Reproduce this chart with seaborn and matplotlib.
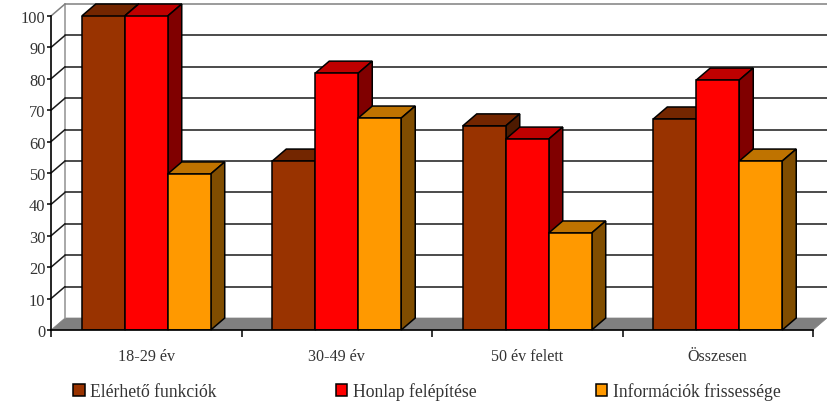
import pandas as pd
import seaborn as sns
from matplotlib import pyplot as plt
from matplotlib.patches import Polygon

# Adatok
kategoriak = ["18-29 év", "30-49 év", "50 év felett", "Összesen"]
elerheto = [100, 53.8, 65, 67.2]
honlap = [100, 81.8, 60.8, 79.6]
informaciok = [49.7, 67.5, 30.9, 53.8]
sorozatok = ["Elérhető funkciók", "Honlap felépítése", "Információk frissessége"]
y_ticks = [0, 10, 20, 30, 40, 50, 60, 70, 80, 90, 100]

szin_elol = ["#993300", "#FF0000", "#FF9900"]
szin_felul = ["#732600", "#BF0000", "#BF7300"]
szin_oldal = ["#4D1A00", "#800000", "#804D00"]

df = pd.DataFrame({
    "kategoria": kategoriak * 3,
    "sorozat": [s for s in sorozatok for _ in kategoriak],
    "ertek": elerheto + honlap + informaciok,
})

sns.set_theme(style="white")
plt.rcParams["font.family"] = ["Liberation Serif", "DejaVu Serif"]
plt.rcParams["font.size"] = 11.6

W, H = 827, 406
fig = plt.figure(figsize=(W / 100, H / 100), dpi=100)
ax = fig.add_axes([51 / W, (H - 331) / H, 762 / W, 314 / H])

sns.barplot(data=df, x="kategoria", y="ertek", hue="sorozat", palette=szin_elol,
            width=0.677, gap=0, dodge=True, saturation=1, edgecolor="black",
            linewidth=1.1, zorder=5, ax=ax)
ax.set_xlim(-0.5, 3.5)
ax.set_ylim(0, 100)
ax.set_xlabel("")
ax.set_ylabel("")

# 3D eltolas adat egysegben (14 px jobbra, 12 px fel)
ddx = 14 / 190.5
ddy = 12 / 3.14
lw = 1.1

# Padlo es hatso fal
bal, jobb = -0.5, 3.5
ax.add_patch(Polygon([(bal, 0), (jobb, 0), (jobb + ddx, ddy), (bal + ddx, ddy)],
                     facecolor="#808080", edgecolor="#808080", lw=0.5, clip_on=False, zorder=1))
ax.plot([bal + ddx, bal + ddx], [ddy, 100 + ddy], color="#999999", lw=1.2, clip_on=False, zorder=1)
for v in y_ticks[1:]:
    szin = "#808080" if v == 100 else "#1a1a1a"
    ax.plot([bal + ddx, jobb + ddx], [v + ddy, v + ddy], color=szin, lw=lw, clip_on=False, zorder=2)
    ax.plot([bal, bal + ddx], [v, v + ddy], color=szin, lw=lw, clip_on=False, zorder=2)

# Felso es oldalso lapok, balrol jobbra, hogy a kovetkezo oszlop takarjon
for j, cont in enumerate(ax.containers):
    for i, bar in enumerate(cont):
        x0, w, h = bar.get_x(), bar.get_width(), bar.get_height()
        z = 5 + i * 5 + j
        bar.set_zorder(z + 0.5)
        ax.add_patch(Polygon([(x0, h), (x0 + w, h), (x0 + w + ddx, h + ddy), (x0 + ddx, h + ddy)],
                             facecolor=szin_felul[j], edgecolor="black", lw=lw, clip_on=False, zorder=z))
        ax.add_patch(Polygon([(x0 + w, 0), (x0 + w + ddx, ddy), (x0 + w + ddx, h + ddy), (x0 + w, h)],
                             facecolor=szin_oldal[j], edgecolor="black", lw=lw, clip_on=False, zorder=z))

sns.despine(ax=ax)
for s in ["left", "bottom"]:
    ax.spines[s].set_color("black")
    ax.spines[s].set_linewidth(1.2)
    ax.spines[s].set_zorder(40)

ax.set_yticks(y_ticks)
ax.tick_params(axis="y", left=True, length=3, width=1.1, color="black", pad=1,
               labelsize=11.8, labelcolor="#333333")
ax.set_xticks([-0.5, 0.5, 1.5, 2.5, 3.5], minor=True)
ax.tick_params(axis="x", which="minor", bottom=True, length=5, width=1.1, color="black")
ax.tick_params(axis="x", which="major", bottom=False, pad=7, labelsize=11.6, labelcolor="#333333")

# Jelmagyarazat
leg = ax.legend(ncol=3, frameon=False, loc="upper left", bbox_to_anchor=(22 / 762, -52 / 314),
                borderaxespad=0, borderpad=0, handlelength=0.66, handleheight=0.66,
                handletextpad=0.32, columnspacing=6.75, fontsize=12.7, labelcolor="#333333")
for p in leg.get_patches():
    p.set_edgecolor("black")
    p.set_linewidth(1.1)

plt.savefig("out.png", dpi=100)
